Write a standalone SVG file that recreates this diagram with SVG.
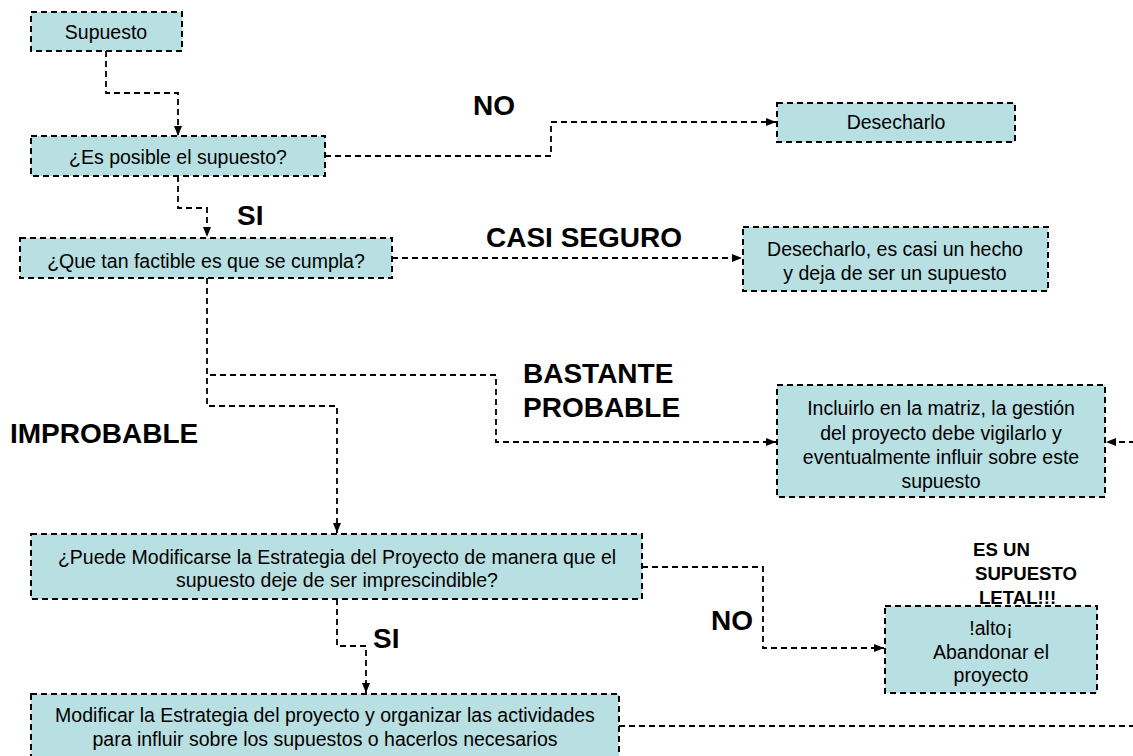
<svg xmlns="http://www.w3.org/2000/svg" width="1133" height="756" viewBox="0 0 1133 756">
<defs>
<marker id="arr" markerWidth="10" markerHeight="8" refX="10" refY="4" orient="auto" markerUnits="userSpaceOnUse">
<path d="M0,0 L10,4 L0,8 Z" fill="#000"/>
</marker>
<style>
.box{fill:#b8dfe2;stroke:#000;stroke-width:2;stroke-dasharray:6 4;}
.t{font-family:"Liberation Sans",Arial,sans-serif;font-size:19.5px;fill:#000;text-anchor:middle;}
.lbl{font-family:"Liberation Sans",Arial,sans-serif;font-size:28px;font-weight:bold;fill:#000;}
.lbs{font-family:"Liberation Sans",Arial,sans-serif;font-size:18.6px;font-weight:bold;fill:#000;}
.c{fill:none;stroke:#000;stroke-width:1.8;stroke-dasharray:6 4;}
.ca{fill:none;stroke:#000;stroke-width:1.8;stroke-dasharray:6 4;marker-end:url(#arr);}
</style>
</defs>
<rect width="1133" height="756" fill="#fff"/>

<g id="connectors">
<path class="ca" d="M106,51 V93 H178 V136"/>
<path class="ca" d="M178,176 V208 H207 V237"/>
<path class="ca" d="M325,156 H551 V122 H776"/>
<path class="ca" d="M392,258 H742"/>
<path class="ca" d="M207,278 V406 H337 V533"/>
<path class="ca" d="M210,375 H496 V442 H776"/>
<path class="ca" d="M642,567 H763 V648 H884"/>
<path class="ca" d="M337,599 V646 H366 V693"/>
<path class="ca" d="M619,726 H1145 V442 H1106"/>
</g>

<g id="labels">
<text class="lbl" x="473" y="115">NO</text>
<text class="lbl" x="237" y="225">SI</text>
<text class="lbl" x="486" y="247">CASI SEGURO</text>
<text class="lbl" x="523" y="383">BASTANTE</text>
<text class="lbl" x="523" y="417">PROBABLE</text>
<text class="lbl" x="10" y="443">IMPROBABLE</text>
<text class="lbl" x="373" y="648">SI</text>
<text class="lbl" x="711" y="630">NO</text>
<text class="lbs" x="973" y="556">ES UN</text>
<text class="lbs" x="975" y="580">SUPUESTO</text>
<text class="lbs" x="979" y="604">LETAL!!!</text>
</g>

<g id="n-supuesto">
<rect class="box" x="31" y="12" width="151" height="39"/>
<text class="t" x="106" y="39">Supuesto</text>
</g>

<g id="n-posible">
<rect class="box" x="31" y="136" width="294" height="40"/>
<text class="t" x="178" y="164">¿Es posible el supuesto?</text>
</g>

<g id="n-factible">
<rect class="box" x="20" y="238" width="372" height="40"/>
<text class="t" x="206" y="268">¿Que tan factible es que se cumpla?</text>
</g>

<g id="n-desecharlo">
<rect class="box" x="777" y="103" width="238" height="39"/>
<text class="t" x="896" y="129">Desecharlo</text>
</g>

<g id="n-casi-hecho">
<rect class="box" x="743" y="227" width="305" height="64"/>
<text class="t" x="895" y="256">Desecharlo, es casi un hecho</text>
<text class="t" x="895" y="280">y deja de ser un supuesto</text>
</g>

<g id="n-incluirlo">
<rect class="box" x="777" y="385" width="328" height="112"/>
<text class="t" x="941" y="415">Incluirlo en la matriz, la gestión</text>
<text class="t" x="941" y="440">del proyecto debe vigilarlo y</text>
<text class="t" x="941" y="464">eventualmente influir sobre este</text>
<text class="t" x="941" y="488">supuesto</text>
</g>

<g id="n-modificarse">
<rect class="box" x="31" y="534" width="611" height="65"/>
<text class="t" x="337" y="564">¿Puede Modificarse la Estrategia del Proyecto de manera que el</text>
<text class="t" x="337" y="587">supuesto deje de ser imprescindible?</text>
</g>

<g id="n-abandonar">
<rect class="box" x="885" y="606" width="212" height="87"/>
<text class="t" x="991" y="635">!alto¡</text>
<text class="t" x="991" y="659">Abandonar el</text>
<text class="t" x="991" y="682">proyecto</text>
</g>

<g id="n-modificar">
<rect class="box" x="31" y="694" width="588" height="70"/>
<text class="t" x="325" y="722">Modificar la Estrategia del proyecto y organizar las actividades</text>
<text class="t" x="325" y="746">para influir sobre los supuestos o hacerlos necesarios</text>
</g>
</svg>
